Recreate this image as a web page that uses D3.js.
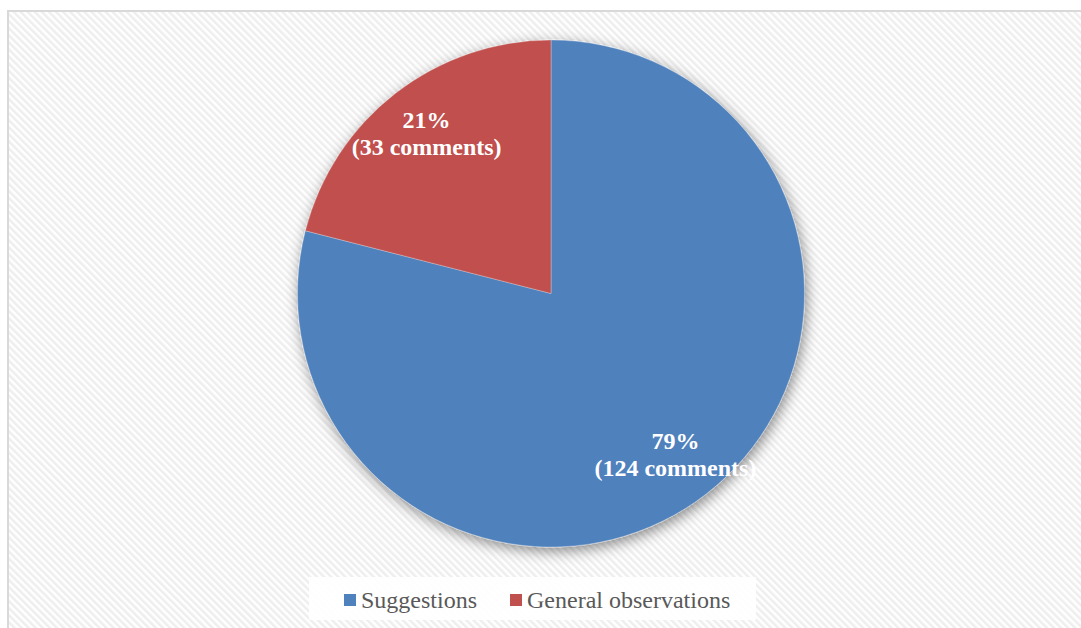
<!DOCTYPE html>
<html>
<head>
<meta charset="utf-8">
<script src="https://cdn.jsdelivr.net/npm/d3@7"></script>
<style>
  body { margin: 0; background: #fff; }
  svg { display: block; }
  .serif { font-family: "Liberation Serif", "Times New Roman", Times, "DejaVu Serif", serif; }
</style>
</head>
<body>
<div class="app"></div>
<script>
'use strict'

// categories and values
var categories = ["Suggestions", "General observations"];
var comments = [124, 33];
var percents = [79, 21];
var colors = ["#4f81bd", "#c0504d"];

var W = 1081, H = 628;

var svg = d3.select(".app").append("svg")
  .attr("width", W)
  .attr("height", H);

var defs = svg.append("defs");

// diagonal hatch background
var pat = defs.append("pattern")
  .attr("id", "hatch")
  .attr("patternUnits", "userSpaceOnUse")
  .attr("width", 5)
  .attr("height", 5)
  .attr("patternTransform", "rotate(-45)");
pat.append("rect").attr("width", 5).attr("height", 5).attr("fill", "#ffffff");
pat.append("rect").attr("width", 2.5).attr("height", 5).attr("fill", "#eeeeee");

var shadow = defs.append("filter")
  .attr("id", "shadow")
  .attr("x", "-20%").attr("y", "-20%")
  .attr("width", "140%").attr("height", "140%");
shadow.append("feDropShadow")
  .attr("dx", 2).attr("dy", 4)
  .attr("stdDeviation", 7)
  .attr("flood-color", "#000")
  .attr("flood-opacity", 0.45);

// chart area frame
svg.append("rect")
  .attr("x", 8).attr("y", 11)
  .attr("width", W).attr("height", H)
  .attr("fill", "url(#hatch)")
  .attr("stroke", "#d9d9d9")
  .attr("stroke-width", 2);

var cx = 551, cy = 293.5, R = 253.5;

var data = categories.map(function(c, i) {
  return { name: c, value: comments[i], pct: percents[i], color: colors[i] };
});

var pie = d3.pie()
  .sort(null)
  .value(function(d) { return d.value; });

var arc = d3.arc().innerRadius(0).outerRadius(R);
var labelArc = d3.arc().innerRadius(R * 0.8).outerRadius(R * 0.8);

var g = svg.append("g")
  .attr("transform", "translate(" + cx + "," + cy + ")");

var arcs = pie(data);

g.append("g")
  .attr("filter", "url(#shadow)")
  .selectAll("path")
  .data(arcs)
  .enter().append("path")
  .attr("d", arc)
  .attr("fill", function(d) { return d.data.color; })
  .attr("stroke", "#ffffff")
  .attr("stroke-opacity", 0.35)
  .attr("stroke-width", 0.8);

// labels
var labels = g.selectAll(".lbl")
  .data(arcs)
  .enter().append("text")
  .attr("class", "lbl serif")
  .attr("transform", function(d) {
    var c = labelArc.centroid(d);
    return "translate(" + c[0] + "," + c[1] + ")";
  })
  .attr("text-anchor", "middle")
  .attr("font-weight", "bold")
  .attr("font-size", 24)
  .attr("fill", "#ffffff");

labels.append("tspan")
  .attr("x", 0)
  .attr("y", -5)
  .text(function(d) { return d.data.pct + "%"; });

labels.append("tspan")
  .attr("x", 0)
  .attr("y", 22)
  .text(function(d) { return "(" + d.data.value + " comments)"; });

// legend
var legend = svg.append("g");
legend.append("rect")
  .attr("x", 309).attr("y", 577)
  .attr("width", 447).attr("height", 43)
  .attr("fill", "#ffffff")
  .attr("fill-opacity", 0.9);

var legendX = [344, 510];
var items = legend.selectAll(".item")
  .data(data)
  .enter().append("g")
  .attr("class", "item")
  .attr("transform", function(d, i) { return "translate(" + legendX[i] + ",594)"; });

items.append("rect")
  .attr("width", 12).attr("height", 12)
  .attr("fill", function(d) { return d.color; });

items.append("text")
  .attr("class", "serif")
  .attr("x", 17)
  .attr("y", 14)
  .attr("font-size", 24)
  .attr("fill", "#595959")
  .text(function(d) { return d.name; });
</script>
</body>
</html>
